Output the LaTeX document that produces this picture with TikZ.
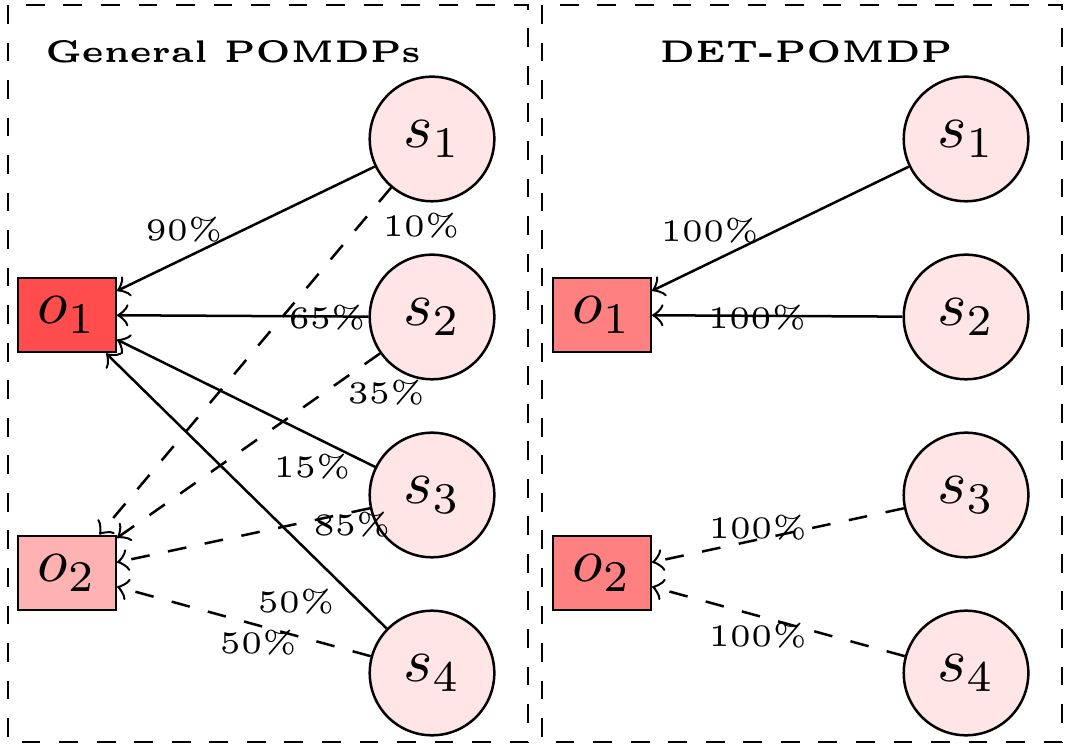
\documentclass[tikz,border=0pt]{standalone}
\begin{document}
\begin{tikzpicture}[x=0.15985pt, y=-0.15985pt,
  state/.style={circle, draw, fill=red!10, minimum size=0.7cm, inner sep=0pt},
  obs/.style={rectangle, draw, inner sep=0pt, minimum width=15.6pt, minimum height=11.9pt},
  lbl/.style={font=\tiny, inner sep=0pt, anchor=center},
  hard/.style={->},
  soft/.style={->, dashed},
  panel/.style={dashed},
  paneltitle/.style={font=\tiny\bfseries, inner sep=0pt}]
\useasboundingbox (0,0) rectangle (1066,745);

% panels
\draw[panel] (8,5) rectangle (528,742);
\draw[panel] (542,5) rectangle (1062,742);
\node[paneltitle] (tgen) at (233,52) {General POMDPs};
\node[paneltitle] (tdet) at (806,52) {DET-POMDP};

% general POMDP
\node[obs, fill=red!70] (ga) at (67,315) {$o_1$};
\node[obs, fill=red!30] (gb) at (67,573) {$o_2$};
\node[state] (g1) at (432,139) {$s_1$};
\node[state] (g2) at (432,317) {$s_2$};
\node[state] (g3) at (432,495) {$s_3$};
\node[state] (g4) at (432,673) {$s_4$};

\draw[hard] (g1) -- node[lbl, pos=0.74, yshift=4.57pt] {90\%} (ga);
\draw[soft] (g1) -- node[lbl, pos=0.022, xshift=5.82pt, yshift=-4.91pt] {10\%} (gb);
\draw[hard] (g2) -- node[lbl, pos=0.165, yshift=-0.24pt] {65\%} (ga);
\draw[soft] (g2) -- node[lbl, pos=0.055, xshift=3.29pt, yshift=-4.68pt] {35\%} (gb);
\draw[hard] (g3) -- node[lbl, pos=0.196, xshift=-1.98pt, yshift=-4.01pt] {15\%} (ga);
\draw[soft] (g3) -- node[lbl, pos=0.081, xshift=0.42pt, yshift=-1.97pt] {85\%} (gb);
\draw[hard] (g4) -- node[lbl, pos=0.212, xshift=-4.99pt, yshift=-5.08pt] {50\%} (ga);
\draw[soft] (g4) -- node[lbl, pos=0.426, xshift=-0.72pt, yshift=-2.64pt] {50\%} (gb);

% deterministic POMDP
\node[obs, fill=red!50] (da) at (602,315) {$o_1$};
\node[obs, fill=red!50] (db) at (602,573) {$o_2$};
\node[state] (d1) at (966,139) {$s_1$};
\node[state] (d2) at (966,317) {$s_2$};
\node[state] (d3) at (966,495) {$s_3$};
\node[state] (d4) at (966,673) {$s_4$};

\draw[hard] (d1) -- node[lbl, pos=0.727, xshift=-2.0pt, yshift=4.14pt] {100\%} (da);
\draw[hard] (d2) -- node[lbl, pos=0.581, yshift=-0.26pt] {100\%} (da);
\draw[soft] (d3) -- node[lbl, pos=0.571, xshift=-0.38pt, yshift=1.79pt] {100\%} (db);
\draw[soft] (d4) -- node[lbl, pos=0.5615, xshift=-0.82pt, yshift=-3.02pt] {100\%} (db);
\end{tikzpicture}
\end{document}
